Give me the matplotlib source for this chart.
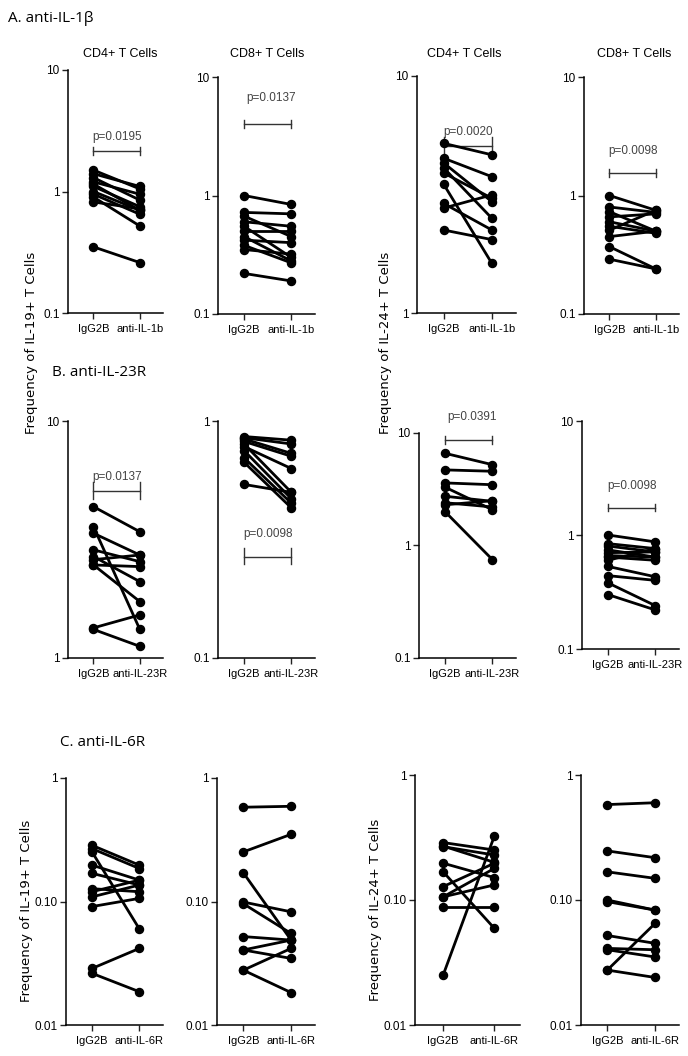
import numpy as np
import matplotlib
matplotlib.use("Agg")
import matplotlib.pyplot as plt

W, H = 688, 1056

# ---- data (frequency of cytokine+ T cells, paired IgG2B vs blocking antibody) ----
# A. anti-IL-1b
a_il19_cd4_igg = [1.5, 1.4, 1.3, 1.2, 1.15, 1.1, 1.0, 0.95, 0.9, 0.82, 0.35]
a_il19_cd4_anti = [1.05, 1.1, 0.85, 0.95, 0.7, 0.75, 0.7, 0.65, 0.52, 0.72, 0.26]
a_il19_cd8_igg = [1.0, 0.72, 0.67, 0.6, 0.55, 0.5, 0.45, 0.42, 0.38, 0.35, 0.22]
a_il19_cd8_anti = [0.84, 0.7, 0.45, 0.55, 0.3, 0.5, 0.28, 0.4, 0.27, 0.32, 0.19]
a_il24_cd4_igg = [5.2, 4.5, 4.3, 4.1, 3.9, 3.5, 2.9, 2.77, 2.24]
a_il24_cd4_anti = [4.65, 3.76, 2.95, 2.51, 3.05, 1.62, 2.24, 3.15, 2.04]
a_il24_cd8_igg = [1.0, 0.8, 0.73, 0.66, 0.6, 0.55, 0.51, 0.45, 0.37, 0.29]
a_il24_cd8_anti = [0.75, 0.72, 0.5, 0.7, 0.5, 0.48, 0.75, 0.5, 0.24, 0.24]

# B. anti-IL-23R
b_il19_cd4_igg = [4.35, 3.58, 3.36, 2.86, 2.68, 2.6, 2.47, 2.47, 1.34, 1.32]
b_il19_cd4_anti = [3.41, 1.32, 2.72, 2.55, 2.1, 2.72, 2.43, 1.73, 1.52, 1.12]
b_il19_cd8_igg = [0.86, 0.85, 0.84, 0.82, 0.8, 0.78, 0.75, 0.7, 0.67, 0.54]
b_il19_cd8_anti = [0.83, 0.8, 0.73, 0.71, 0.5, 0.63, 0.47, 0.45, 0.43, 0.5]
b_il24_cd4_igg = [6.6, 4.7, 3.6, 3.3, 2.74, 2.4, 2.3, 2.0]
b_il24_cd4_anti = [5.23, 4.57, 3.47, 2.08, 2.47, 2.2, 2.5, 0.75]
b_il24_cd8_igg = [1.0, 0.84, 0.8, 0.74, 0.7, 0.66, 0.64, 0.6, 0.53, 0.44, 0.38, 0.30]
b_il24_cd8_anti = [0.87, 0.76, 0.71, 0.64, 0.71, 0.64, 0.6, 0.76, 0.43, 0.40, 0.24, 0.22]

# C. anti-IL-6R
c_il19_cd4_igg = [0.285, 0.268, 0.252, 0.197, 0.169, 0.127, 0.12, 0.109, 0.091, 0.0287, 0.0262]
c_il19_cd4_anti = [0.197, 0.185, 0.06, 0.149, 0.136, 0.12, 0.149, 0.136, 0.106, 0.0417, 0.0186]
c_il19_cd8_igg = [0.58, 0.252, 0.171, 0.099, 0.096, 0.052, 0.0405, 0.0405, 0.0278, 0.0278]
c_il19_cd8_anti = [0.59, 0.35, 0.0487, 0.0825, 0.0551, 0.0487, 0.0346, 0.0487, 0.0417, 0.0183]
c_il24_cd4_igg = [0.288, 0.267, 0.197, 0.168, 0.128, 0.106, 0.106, 0.0884, 0.0251, 0.27]
c_il24_cd4_anti = [0.251, 0.229, 0.151, 0.0593, 0.197, 0.179, 0.132, 0.0884, 0.325, 0.2]
c_il24_cd8_igg = [0.58, 0.247, 0.168, 0.10, 0.097, 0.052, 0.041, 0.040, 0.0275, 0.0275]
c_il24_cd8_anti = [0.60, 0.218, 0.149, 0.083, 0.083, 0.045, 0.040, 0.035, 0.065, 0.024]

groups_a = ["IgG2B", "anti-IL-1b"]
groups_b = ["IgG2B", "anti-IL-23R"]
groups_c = ["IgG2B", "anti-IL-6R"]

ticks_hi = [0.1, 1, 10]
ticks_hi_lbl = ["0.1", "1", "10"]
ticks_one = [1, 10]
ticks_one_lbl = ["1", "10"]
ticks_mid = [0.1, 1]
ticks_mid_lbl = ["0.1", "1"]
ticks_lo = [0.01, 0.1, 1]
ticks_lo_lbl = ["0.01", "0.10", "1"]

# p values and bracket heights
pvals = {"a19_4": ("p=0.0195", 2.15), "a19_8": ("p=0.0137", 4.0),
         "a24_4": ("p=0.0020", 5.05), "a24_8": ("p=0.0098", 1.55),
         "b19_4": ("p=0.0137", 5.05), "b19_8": ("p=0.0098", 0.268),
         "b24_4": ("p=0.0391", 8.6), "b24_8": ("p=0.0098", 1.73)}

titles = ["CD4+ T Cells", "CD8+ T Cells", "CD4+ T Cells", "CD8+ T Cells"]

plt.rcParams["font.family"] = ["Liberation Sans", "DejaVu Sans"]

fig = plt.figure(figsize=(W / 100, H / 100), dpi=100)


def box(x0, x1, top, bot):
    return [x0 / W, 1 - bot / H, (x1 - x0) / W, (bot - top) / H]


# panel: (box, igg, anti, groups, ylim, ticks, labels, pkey, ptext offset(pt))
panels = [
    (box(68, 163, 70, 313), a_il19_cd4_igg, a_il19_cd4_anti, groups_a, (0.1, 10), ticks_hi, ticks_hi_lbl, "a19_4", (0.5, 10)),
    (box(218, 315, 77, 314), a_il19_cd8_igg, a_il19_cd8_anti, groups_a, (0.1, 10), ticks_hi, ticks_hi_lbl, "a19_8", (0.57, 19)),
    (box(417, 516, 76, 313), a_il24_cd4_igg, a_il24_cd4_anti, groups_a, (1, 10), ticks_one, ticks_one_lbl, "a24_4", (0.5, 10)),
    (box(584, 679, 77, 314), a_il24_cd8_igg, a_il24_cd8_anti, groups_a, (0.1, 10), ticks_hi, ticks_hi_lbl, "a24_8", (0.5, 16)),
    (box(68, 163, 421, 658), b_il19_cd4_igg, b_il19_cd4_anti, groups_b, (1, 10), ticks_one, ticks_one_lbl, "b19_4", (0.5, 10)),
    (box(218, 315, 421, 658), b_il19_cd8_igg, b_il19_cd8_anti, groups_b, (0.1, 1), ticks_mid, ticks_mid_lbl, "b19_8", (0.5, 16)),
    (box(419, 516, 433, 658), b_il24_cd4_igg, b_il24_cd4_anti, groups_b, (0.1, 10), ticks_hi, ticks_hi_lbl, "b24_4", (0.57, 17)),
    (box(582, 679, 421, 649), b_il24_cd8_igg, b_il24_cd8_anti, groups_b, (0.1, 10), ticks_hi, ticks_hi_lbl, "b24_8", (0.5, 16)),
    (box(66, 163, 778, 1025), c_il19_cd4_igg, c_il19_cd4_anti, groups_c, (0.01, 1), ticks_lo, ticks_lo_lbl, None, None),
    (box(217, 315, 778, 1025), c_il19_cd8_igg, c_il19_cd8_anti, groups_c, (0.01, 1), ticks_lo, ticks_lo_lbl, None, None),
    (box(415, 520, 775, 1025), c_il24_cd4_igg, c_il24_cd4_anti, groups_c, (0.01, 1), ticks_lo, ticks_lo_lbl, None, None),
    (box(581, 679, 775, 1025), c_il24_cd8_igg, c_il24_cd8_anti, groups_c, (0.01, 1), ticks_lo, ticks_lo_lbl, None, None),
]

for rect, igg, anti, groups, ylim, ticks, tlbl, pkey, poff in panels:
    ax = fig.add_axes(rect)
    xs = np.arange(len(groups))
    for a, b in zip(igg, anti):
        ax.plot(xs, [a, b], color="black", lw=2, marker="o", ms=5.8, clip_on=False, zorder=3)
    ax.set_yscale("log")
    ax.set_ylim(*ylim)
    ax.set_xlim(-0.55, 1.5)
    ax.yaxis.set_minor_locator(matplotlib.ticker.NullLocator())
    ax.set_yticks(ticks)
    ax.set_yticklabels(tlbl)
    ax.set_xticks(xs)
    ax.set_xticklabels(groups)
    for s in ["top", "right"]:
        ax.spines[s].set_visible(False)
    for s in ["left", "bottom"]:
        ax.spines[s].set_linewidth(1.1)
    ax.tick_params(direction="out", length=4, width=1, labelsize=8.5, pad=2, color="#222222")
    ax.tick_params(axis="x", labelsize=8, pad=4)
    ax.patch.set_alpha(0)
    if pkey:
        ptxt, ybr = pvals[pkey]
        ax.plot(xs, [ybr, ybr], color="#333333", lw=1, clip_on=False)
        for x in xs:
            ax.plot([x, x], [ybr * 0.93, ybr * 1.09], color="#333333", lw=1, clip_on=False)
        ax.annotate(ptxt, (poff[0], ybr), xytext=(0, poff[1]), textcoords="offset points",
                    ha="center", va="center", fontsize=8.5, color="#444444", annotation_clip=False)

# column titles (row A only)
for xc, t in zip([120, 267, 464, 634], titles):
    fig.text(xc / W, 1 - 54 / H, t, fontsize=9, ha="center", va="center")

# section headers
hdr = dict(fontsize=11, family=["Open Sans", "DejaVu Sans"], va="center", ha="left")
fig.text(8 / W, 1 - 18 / H, "A. anti-IL-1β", **hdr)
fig.text(52 / W, 1 - 372 / H, "B. anti-IL-23R", **hdr)
fig.text(60 / W, 1 - 742 / H, "C. anti-IL-6R", **hdr)

# y labels
ylab = dict(fontsize=9.5, family="DejaVu Sans", rotation=90, va="center", ha="center")
fig.text(32 / W, 1 - 343 / H, "Frequency of IL-19+ T Cells", **ylab)
fig.text(386 / W, 1 - 343 / H, "Frequency of IL-24+ T Cells", **ylab)
fig.text(27 / W, 1 - 911 / H, "Frequency of IL-19+ T Cells", **ylab)
fig.text(376 / W, 1 - 910 / H, "Frequency of IL-24+ T Cells", **ylab)

fig.savefig("out.png", dpi=100)
